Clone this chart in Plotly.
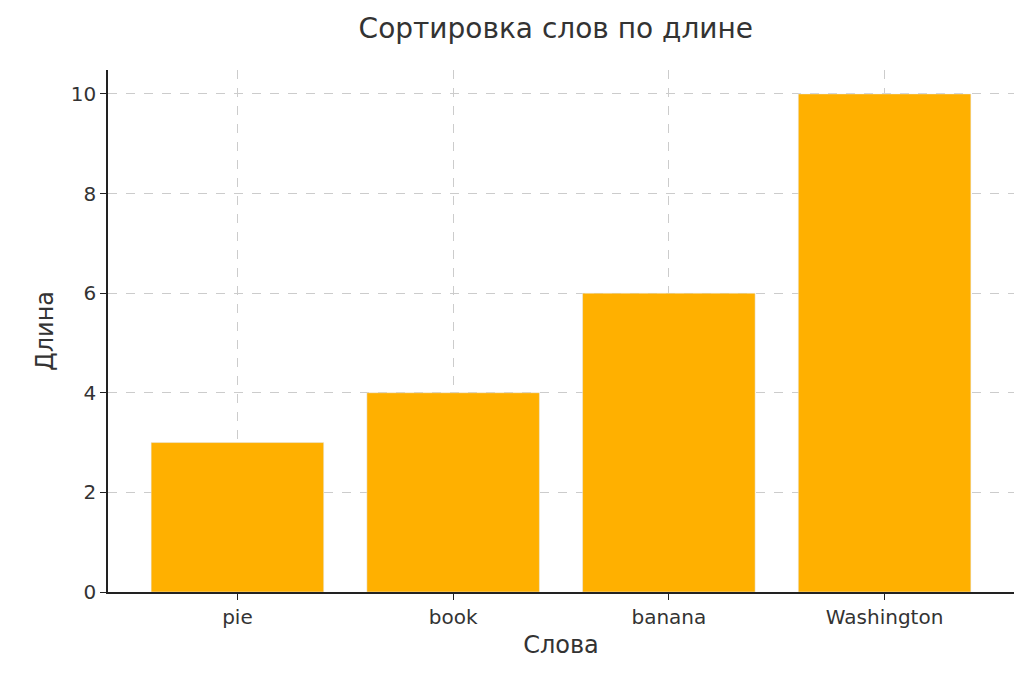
import plotly.graph_objects as go

words = ["pie", "book", "banana", "Washington"]
lengths = [3, 4, 6, 10]

fig = go.Figure(go.Bar(x=words, y=lengths, marker_color="#FFB000", width=0.8))
fig.update_layout(
    width=1024, height=677,
    margin=dict(l=100, r=18, t=62, b=93),
    paper_bgcolor="white", plot_bgcolor="white",
    font=dict(family="DejaVu Sans", color="#333333", size=20),
    title=dict(text="Сортировка слов по длине", x=0.535, xanchor="center", y=0.985, yanchor="top",
               font=dict(size=28, color="#333333")),
    showlegend=False,
)
fig.update_xaxes(title=dict(text="Слова", standoff=8), range=[-0.6, 3.6],
                 showline=True, linecolor="#222", linewidth=1.5,
                 ticks="outside", ticklen=6, tickcolor="#222",
                 showgrid=True, gridcolor="#cccccc", griddash="dash")
fig.update_yaxes(title=dict(text="Длина", standoff=10), range=[0, 10.48],
                 tickvals=[0, 2, 4, 6, 8, 10],
                 showline=True, linecolor="#222", linewidth=1.5,
                 ticks="outside", ticklen=6, tickcolor="#222",
                 showgrid=True, gridcolor="#cccccc", griddash="dash", zeroline=False)
fig.write_html("out.html")
